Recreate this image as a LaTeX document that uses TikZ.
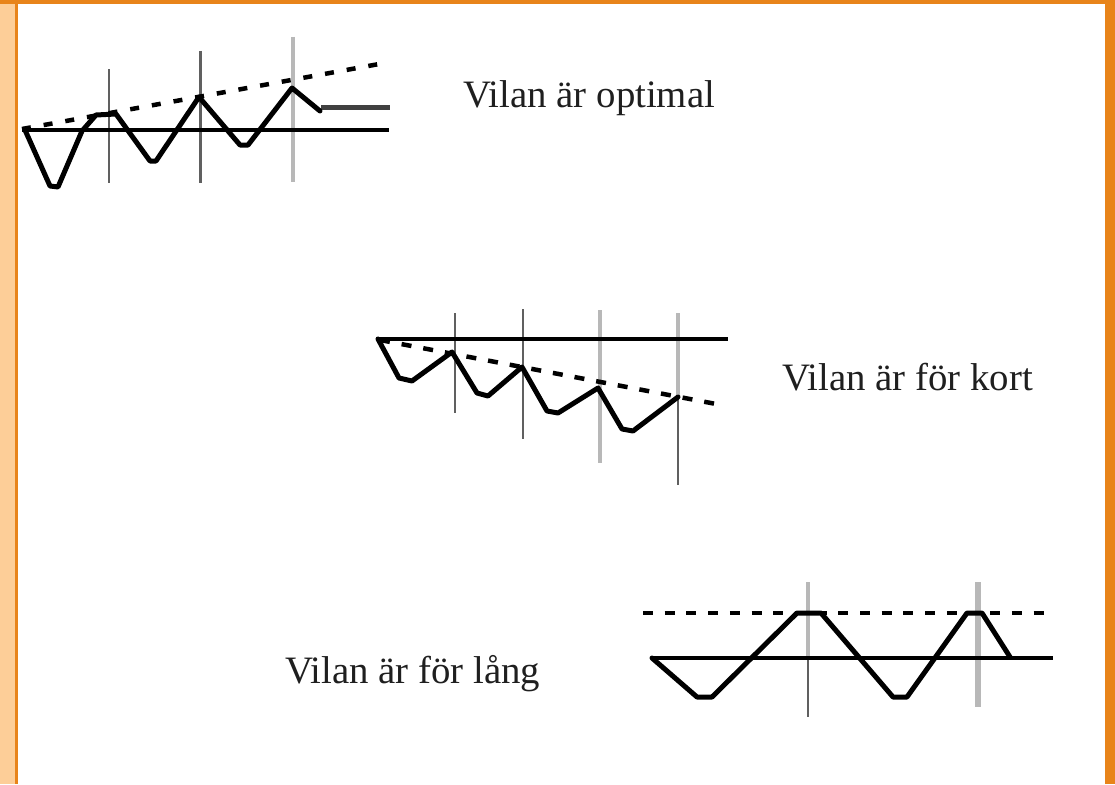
\documentclass[tikz,border=0pt]{standalone}
\usepackage{fontspec}
\setmainfont{Liberation Serif}
\definecolor{lightor}{HTML}{FDCE98}
\definecolor{darkor}{HTML}{E8841A}
\definecolor{vdark}{HTML}{606060}
\definecolor{vlight}{HTML}{B8B8B8}
\begin{document}
\begin{tikzpicture}[x=1pt,y=-1pt,
  wave/.style={line width=5pt,line join=round,line cap=round,black},
  base/.style={line width=4.5pt,black},
  dashline/.style={line width=4.5pt,black,dash pattern=on 9pt off 13pt},
  vdk/.style={line width=2.4pt,vdark},
  vlt/.style={line width=4.5pt,vlight},
  lbl/.style={anchor=base west,inner sep=0pt,font=\fontsize{38.8}{40}\selectfont,text=black!88}]
\useasboundingbox (0,0) rectangle (1115,784);
\fill[white] (0,0) rectangle (1115,784);
% frame
\fill[lightor] (0,0) rectangle (15,784);
\fill[darkor] (15,0) rectangle (17.5,784);
\fill[darkor] (0,0) rectangle (1115,4);
\fill[darkor] (1105,0) rectangle (1115,784);

% ---------- figure 1: optimal ----------
\draw[vdk] (109,69) -- (109,183);
\draw[vdk,line width=3pt] (200,51) -- (200,183);
\draw[vlt,line width=3.5pt] (293,37) -- (293,182);
\draw[base] (22,130) -- (389,130);
\draw[line width=5pt,black!75] (321,107) -- (390,107);
\draw[dashline] (22,129) -- (388.5,62.3);
\draw[wave] (25,130) -- (50,186) -- (58,187) -- (82,131) -- (96,115) -- (116,114)
  -- (150,161) -- (156,161) -- (199,97) -- (240,145) -- (248,145) -- (292,88) -- (320,111);

% ---------- figure 2: too short ----------
\draw[vdk] (455,313) -- (455,413);
\draw[vdk] (523,309) -- (523,439);
\draw[vlt] (600,310) -- (600,463);
\draw[vlt] (678,313) -- (678,397);
\draw[vdk] (678,397) -- (678,485);
\draw[base] (376,339) -- (728,339);
\draw[dashline,dash pattern=on 10pt off 12pt] (380,340) -- (724,405.5);
\draw[wave] (378,339) -- (399,378) -- (412,381) -- (452,352) -- (477,393) -- (488,396)
  -- (522,367) -- (547,411) -- (558,413) -- (598,388) -- (622,429) -- (633,431) -- (678,397);

% ---------- figure 3: too long ----------
\draw[vlt] (808,582) -- (808,656);
\draw[vdk] (808,656) -- (808,717);
\draw[vlt,line width=5.5pt] (978,582) -- (978,707);
\draw[dashline,dash pattern=on 10pt off 11.7pt] (643,613) -- (1052,613);
\draw[base] (651,658) -- (1053,658);
\draw[wave] (652,658) -- (697,697) -- (712,697) -- (797,613) -- (821,613) -- (893,697)
  -- (907,697) -- (967,613) -- (982,613) -- (1010,657);

% labels
\node[lbl] (t1) at (463,107) {Vilan är optimal};
\node[lbl] (t2) at (782,390) {Vilan är för kort};
\node[lbl] (t3) at (285,683) {Vilan är för lång};
\end{tikzpicture}
\end{document}
